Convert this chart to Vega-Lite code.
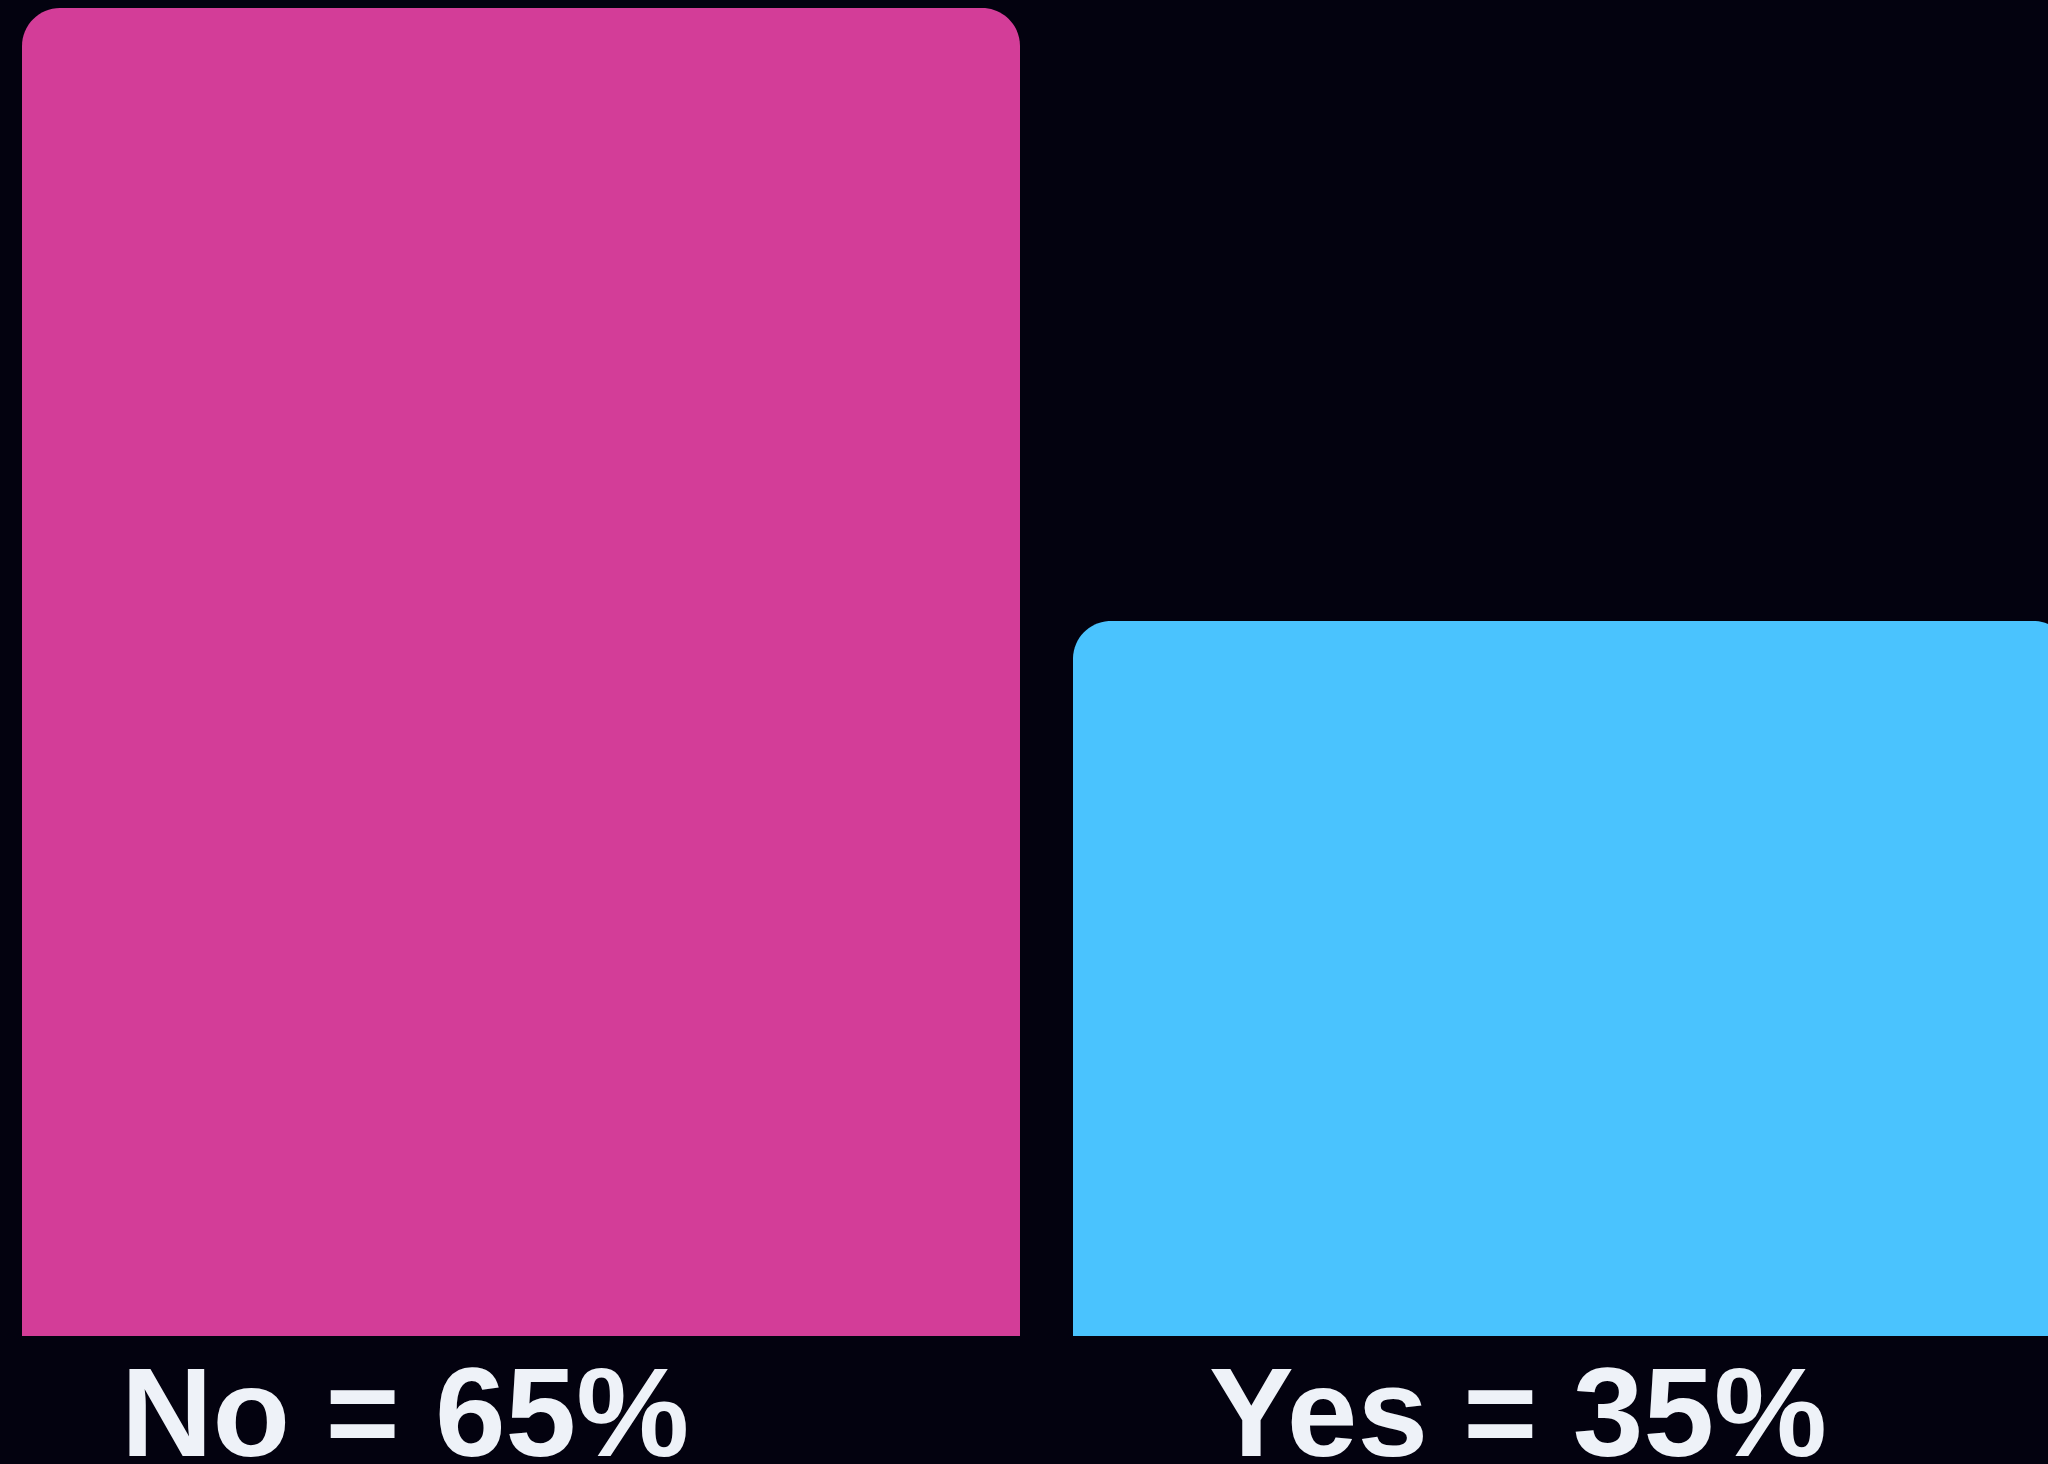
{
  "$schema": "https://vega.github.io/schema/vega-lite/v6.json",
  "width": 2026,
  "height": 1328,
  "autosize": {"type": "none"},
  "padding": {"left": 22, "top": 8, "right": 0, "bottom": 128},
  "background": "#03020f",
  "config": {"view": {"stroke": null}},
  "data": {
    "values": [
      {"answer": "No", "pct": 65, "label": "No = 65%"},
      {"answer": "Yes", "pct": 35, "label": "Yes = 35%"}
    ]
  },
  "layer": [
    {
      "mark": {"type": "bar", "cornerRadiusTopLeft": 38, "cornerRadiusTopRight": 38},
      "encoding": {
        "x": {
          "field": "answer",
          "type": "nominal",
          "axis": null,
          "scale": {"range": [0, 2049], "paddingInner": 0.0504, "paddingOuter": 0}
        },
        "y": {
          "field": "pct",
          "type": "quantitative",
          "axis": null,
          "scale": {"domain": [0, 65], "nice": false}
        },
        "color": {
          "field": "answer",
          "type": "nominal",
          "legend": null,
          "scale": {"domain": ["No", "Yes"], "range": ["#d33d98", "#4ac3fe"]}
        }
      }
    },
    {
      "mark": {
        "type": "text",
        "font": "Liberation Sans",
        "fontWeight": "bold",
        "fontSize": 127,
        "color": "#eef2f8",
        "baseline": "alphabetic",
        "align": "center",
        "dy": 120
      },
      "encoding": {
        "x": {
          "field": "answer",
          "type": "nominal",
          "axis": null,
          "scale": {"type": "point", "range": [383, 1496], "padding": 0}
        },
        "y": {"datum": 0},
        "text": {"field": "label"}
      }
    }
  ],
  "resolve": {"scale": {"x": "independent"}}
}
